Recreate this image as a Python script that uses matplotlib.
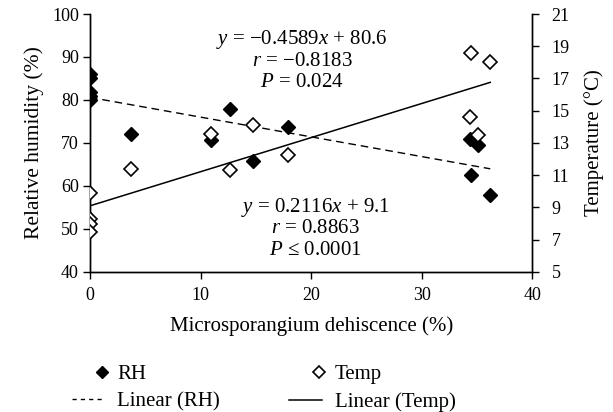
import matplotlib
matplotlib.use("Agg")
import matplotlib.pyplot as plt
from matplotlib.lines import Line2D
from matplotlib.legend_handler import HandlerLine2DCompound
import numpy as np

plt.rcParams['font.family'] = ['Liberation Serif', 'DejaVu Serif']
plt.rcParams['mathtext.fontset'] = 'custom'
plt.rcParams['mathtext.rm'] = 'Liberation Serif'
plt.rcParams['mathtext.it'] = 'Liberation Serif:italic'

# Data
rh_x = [0, 0, 0, 0, 0, 3.7, 10.9, 12.7, 14.7, 17.9, 34.4, 35.1, 34.5, 36.2]
rh_y = [86.0, 85.2, 81.8, 80.9, 80.0, 72.0, 70.8, 77.9, 65.8, 73.8, 70.9, 69.6, 62.5, 57.8]
temp_x = [0, 0, 0, 0, 3.7, 10.9, 12.7, 14.7, 17.9, 34.4, 35.1, 34.5, 36.2]
temp_y = [9.9, 8.3, 8.0, 7.45, 11.4, 13.55, 11.35, 14.1, 12.25, 14.6, 13.5, 18.6, 18.0]
rh_slope, rh_icpt = -0.4589, 80.6
t_slope, t_icpt = 0.2116, 9.1
x_ticks = [0, 10, 20, 30, 40]
rh_ticks = [40, 50, 60, 70, 80, 90, 100]
t_ticks = [5, 7, 9, 11, 13, 15, 17, 19, 21]


class RightMarker(HandlerLine2DCompound):
    def get_xdata(self, legend, xdescent, ydescent, width, height, fontsize):
        xdata = np.array([-xdescent, -xdescent + width])
        xm = np.array([-xdescent + 0.9 * width])
        return xdata, xm


fig = plt.figure(figsize=(6.13, 4.12), dpi=100)
ax = fig.add_axes([0.1468, 0.34, 0.7215, 0.626])
ax2 = ax.twinx()

tfs = 13
lfs = 15
ax.plot(rh_x, rh_y, linestyle='none', marker='D', ms=7, mfc='black', mec='black', zorder=3)
xr = np.array([0, max(rh_x)])
ax.plot(xr, rh_slope * xr + rh_icpt, color='black', lw=1, dashes=(5.5, 3.5))
ax2.plot(temp_x, temp_y, linestyle='none', marker='D', ms=7, mfc='white', mec='black', mew=1.2, zorder=3)
xt = np.array([0, max(temp_x)])
ax2.plot(xt, t_slope * xt + t_icpt, color='black', lw=1.1)

ax.set_xlim(0, 40)
ax.set_ylim(40, 100)
ax2.set_ylim(5, 21)
ax.set_xticks(x_ticks)
ax.set_yticks(rh_ticks)
ax2.set_yticks(t_ticks)
for a in (ax, ax2):
    a.spines['top'].set_visible(False)
    for s in a.spines.values():
        s.set_linewidth(1)
ax.tick_params(axis='both', labelsize=tfs, direction='out', length=5, width=1)
ax.tick_params(axis='x', pad=6)
ax.tick_params(axis='y', pad=3)
ax2.tick_params(axis='y', labelsize=tfs, direction='out', length=5, width=1, pad=9)
ax.set_xlabel('Microsporangium dehiscence (%)', fontsize=lfs, labelpad=9)
ax.set_ylabel('Relative humidity (%)', fontsize=lfs + 0.5, labelpad=6)
ax2.set_ylabel('Temperature (°C)', fontsize=lfs, labelpad=10)

efs = 15
ax.text(19.2, 94.0, r'$y$ = −0.4589$x$ + 80.6', ha='center', va='center', fontsize=efs)
ax.text(19.2, 89.0, r'$r$ = −0.8183', ha='center', va='center', fontsize=efs)
ax.text(19.2, 84.0, r'$P$ = 0.024', ha='center', va='center', fontsize=efs)
ax.text(20.4, 55.0, r'$y$ = 0.2116$x$ + 9.1', ha='center', va='center', fontsize=efs)
ax.text(20.4, 50.0, r'$r$ = 0.8863', ha='center', va='center', fontsize=efs)
ax.text(20.4, 45.0, r'$P$ ≤ 0.0001', ha='center', va='center', fontsize=efs)

h_rh = Line2D([], [], linestyle='none', marker='D', ms=6, mfc='black', mec='black')
h_rhl = Line2D([], [], color='black', lw=1, dashes=(3, 3))
h_t = Line2D([], [], linestyle='none', marker='D', ms=6, mfc='white', mec='black', mew=1.2)
h_tl = Line2D([], [], color='black', lw=1.1)
handles = [h_rh, h_rhl, h_t, h_tl]
labels = ['RH', 'Linear (RH)', 'Temp', 'Linear (Temp)']
fig.legend(handles, labels, ncol=2, loc='center', bbox_to_anchor=(0.43, 0.058), frameon=False,
           fontsize=lfs, handlelength=1.6, handletextpad=0.6, columnspacing=3.3, labelspacing=0.4,
           numpoints=1, handler_map={h_rh: RightMarker(), h_t: RightMarker()})

fig.savefig('out.png', dpi=100)
